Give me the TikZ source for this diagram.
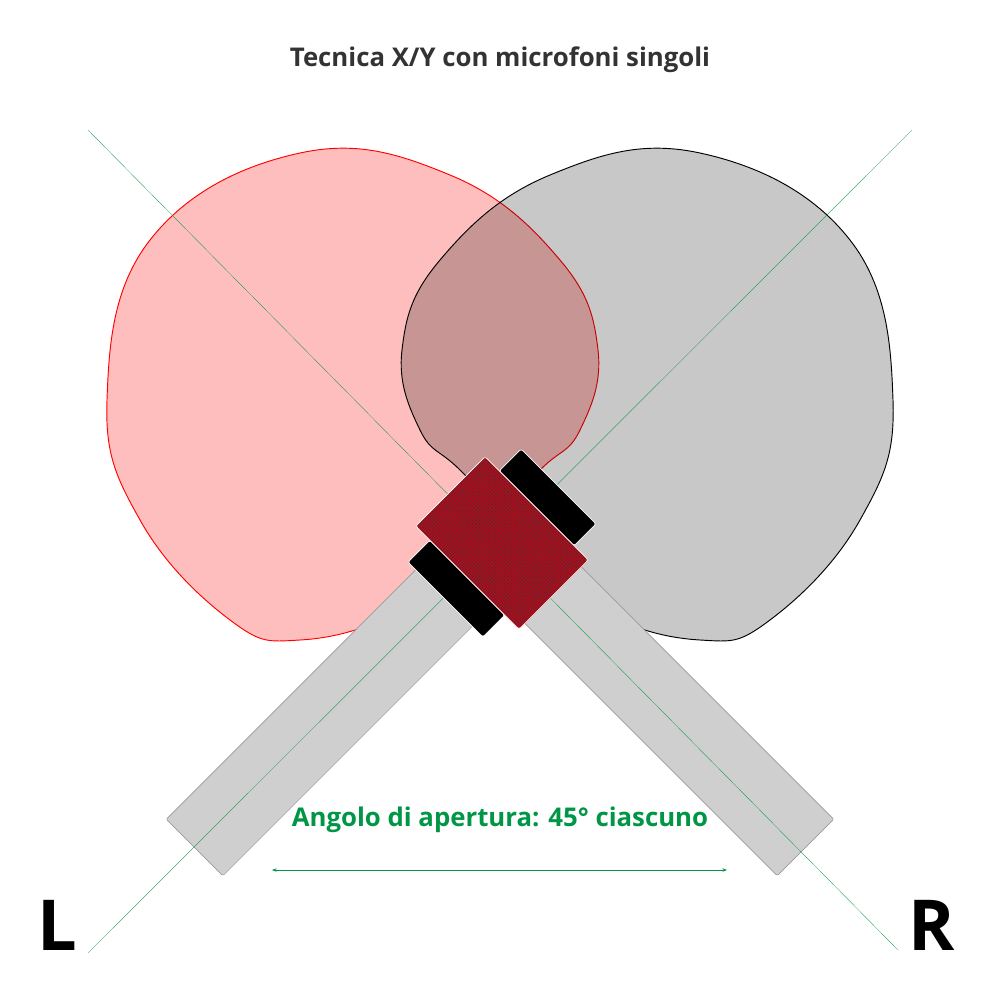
\documentclass[tikz,border=0pt]{standalone}
\usepackage{fontspec}
\setmainfont{Open Sans}
\usetikzlibrary{patterns,arrows.meta}
\definecolor{lobered}{RGB}{255,190,190}
\definecolor{lobegrey}{RGB}{200,200,200}
\definecolor{axisgreen}{RGB}{0,150,70}
\definecolor{capsred}{RGB}{165,15,30}
\tikzset{
  axis/.style={axisgreen, line width=0.25pt},
  handle/.style={fill=black!19, draw=black!45, line width=0.4pt, rounded corners=1pt},
  band/.style={fill=black, draw=white, line width=0.6pt, rounded corners=2pt},
  capsule/.style={fill=capsred, draw=white, line width=0.6pt, rounded corners=2pt},
}
\begin{document}
\begin{tikzpicture}[x=0.3mm, y=-0.3mm]
    \useasboundingbox (0,0) rectangle (1000,1000);
    % Lobes
    \filldraw[fill=lobered, draw=red, line width=0.8pt] plot[smooth cycle, tension=0.7] coordinates {
      (107,400) (150,240) (300,153) (450,175) (560,260) (598,350) (580,430)
      (540,470) (470,540) (400,610) (300,640) (230,620) (140,520)};
    \begin{scope}[blend mode=multiply]
    \filldraw[fill=lobegrey, draw=black, line width=0.8pt] plot[smooth cycle, tension=0.7] coordinates {
      (893,400) (850,240) (700,153) (550,175) (440,260) (402,350) (420,430)
      (460,470) (530,540) (600,610) (700,640) (770,620) (860,520)};
    \end{scope}
    % Microphones
    \begin{scope}[shift={(500,542)}, rotate=-135]
      \draw[handle] (0,-40) rectangle (432,40);
    \end{scope}
    \begin{scope}[shift={(500,542)}, rotate=-45]
      \draw[handle] (0,-40) rectangle (432,40);
    \end{scope}
    % Axes
    \coordinate (la) at (88,130);  \coordinate (lb) at (898,950);
    \coordinate (ra) at (912,130); \coordinate (rb) at (88,953);
    \draw[axis] (la) -- (lb);
    \draw[axis] (ra) -- (rb);
    \begin{scope}[shift={(502,543)}, rotate=-45]
      \draw[band] (-53,49) rectangle (53,80);
      \draw[band] (-53,-49) rectangle (53,-80);
      \draw[capsule] (-73,-49) rectangle (73,49);
      \fill[pattern=crosshatch dots, pattern color=black!80] (-72,-48) rectangle (72,48);
    \end{scope}
    % Texts
    \node[font=\bfseries\fontsize{22}{24}\selectfont, text=black!80] (title) at (500,60) {Tecnica X/Y con microfoni singoli};
    \node[font=\bfseries\fontsize{22}{24}\selectfont, text=axisgreen] (angle) at (500,820) {Angolo di apertura: 45° ciascuno};
    \coordinate (al) at (272,870); \coordinate (ar) at (727,870);
    \draw[axisgreen, line width=0.5pt, {Stealth[length=4pt]}-{Stealth[length=4pt]}] (al) -- (ar);
    \node[font=\bfseries\fontsize{60}{60}\selectfont] (lmic) at (57,925) {L};
    \node[font=\bfseries\fontsize{60}{60}\selectfont] (rmic) at (932,925) {R};
\end{tikzpicture}
\end{document}
